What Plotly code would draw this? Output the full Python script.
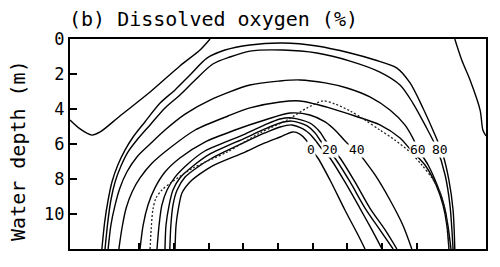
import plotly.graph_objects as go

# Contour paths: distance (arbitrary units, axis 0-12) vs water depth (m)
left_x = [0, 0.29, 0.63, 0.87, 1.44, 2.31, 3.17, 3.75, 4.04]
left_y = [4.63, 5.14, 5.49, 5.31, 4.40, 3.03, 1.54, 0.63, 0.0]

right_x = [11.10, 11.30, 11.54, 11.83, 11.91, 12.0]
right_y = [0, 1.2, 2.34, 4.06, 5.2, 5.54]

c1_x = [0.92, 1.00, 1.10, 1.21, 1.38, 1.59, 1.82, 2.16, 2.60, 3.03, 3.46, 3.95, 4.47, 5.19, 6.14, 7.12, 8.08, 8.80, 9.43, 9.81, 10.18, 10.53, 10.76, 10.93, 11.05, 11.10]
c1_y = [12.0, 10.46, 9.20, 8.17, 7.20, 6.34, 5.60, 4.74, 3.66, 2.91, 2.06, 1.09, 0.63, 0.34, 0.23, 0.40, 0.80, 1.20, 1.66, 2.51, 3.94, 5.49, 6.63, 8.06, 9.77, 12.0]

c2_x = [1.01, 1.09, 1.18, 1.30, 1.47, 1.67, 1.93, 2.31, 2.74, 3.17, 3.61, 4.12, 4.61, 5.19, 6.14, 7.12, 8.08, 8.94, 9.52, 9.89, 10.24, 10.59, 10.82, 10.96, 11.05]
c2_y = [12.0, 10.46, 9.20, 8.17, 7.26, 6.46, 5.77, 4.91, 3.94, 3.20, 2.34, 1.43, 1.03, 0.69, 0.63, 0.80, 1.26, 1.89, 2.63, 3.66, 4.91, 6.29, 7.77, 9.49, 12.0]

c3_x = [1.10, 1.18, 1.30, 1.44, 1.64, 1.93, 2.31, 2.74, 3.32, 4.04, 5.19, 6.06, 6.63, 7.36, 7.99, 8.65, 9.23, 9.66, 9.89, 10.04, 10.33, 10.59, 10.79, 10.90, 10.99]
c3_y = [12.0, 10.63, 9.49, 8.51, 7.60, 6.74, 6.0, 5.20, 4.29, 3.49, 2.63, 2.40, 2.34, 2.51, 2.80, 3.31, 4.06, 4.91, 5.66, 6.29, 7.20, 8.34, 9.49, 10.63, 12.0]

c4_x = [1.41, 1.50, 1.62, 1.79, 2.02, 2.37, 2.88, 3.61, 4.56, 5.19, 6.06, 6.63, 7.41, 8.22, 8.94, 9.52, 9.81, 10.24, 10.56, 10.76, 10.87, 10.93]
c4_y = [12.0, 10.80, 9.66, 8.74, 7.94, 7.09, 6.23, 5.20, 4.40, 3.94, 3.60, 3.54, 3.89, 4.40, 4.91, 5.66, 6.29, 7.20, 8.34, 9.49, 10.63, 12.0]

c40_x = [2.02, 2.11, 2.25, 2.45, 2.74, 3.17, 3.89, 4.76, 5.62, 6.35, 6.92, 7.36, 7.70, 7.99, 8.28, 8.42, 8.80, 9.23, 9.60, 9.86]
c40_y = [12.0, 10.63, 9.49, 8.51, 7.60, 6.80, 5.89, 5.20, 4.63, 4.23, 4.34, 4.74, 5.31, 5.94, 6.34, 6.74, 7.77, 9.20, 10.63, 12.0]

c30_x = [2.51, 2.57, 2.65, 2.80, 3.03, 3.40, 3.89, 5.05, 5.62, 6.06, 6.40, 6.92, 7.21, 7.36, 7.56, 7.79, 8.22, 8.65, 9.09, 9.43]
c30_y = [12.0, 10.63, 9.49, 8.63, 7.89, 7.14, 6.40, 5.43, 4.91, 4.57, 4.51, 4.80, 5.31, 5.77, 6.29, 6.80, 8.17, 9.66, 10.91, 12.0]

c20_x = [2.74, 2.77, 2.86, 2.97, 3.17, 3.55, 4.04, 5.05, 5.62, 6.06, 6.40, 6.84, 7.07, 7.21, 7.41, 7.64, 8.08, 8.51, 8.94, 9.32]
c20_y = [12.0, 10.63, 9.49, 8.63, 7.94, 7.26, 6.57, 5.66, 5.14, 4.80, 4.69, 4.97, 5.37, 5.77, 6.29, 6.80, 8.17, 9.66, 10.91, 12.0]

c10_x = [2.88, 2.91, 2.97, 3.09, 3.32, 3.69, 4.10, 5.05, 5.62, 6.06, 6.40, 6.72, 6.92, 7.07, 7.27, 7.50, 7.93, 8.36, 8.71, 9.00]
c10_y = [12.0, 10.63, 9.49, 8.63, 7.89, 7.31, 6.80, 5.89, 5.37, 5.03, 4.91, 5.14, 5.43, 5.77, 6.29, 6.80, 8.17, 9.66, 10.91, 12.0]

c0_x = [3.03, 3.06, 3.12, 3.23, 3.46, 3.75, 4.10, 5.05, 5.62, 6.06, 6.43, 6.63, 6.81, 6.95, 7.15, 7.50, 7.93, 8.31, 8.51]
c0_y = [12.0, 10.63, 9.77, 8.80, 8.17, 7.71, 7.26, 6.46, 5.94, 5.60, 5.31, 5.43, 5.77, 6.29, 6.80, 8.06, 9.77, 11.20, 12.0]

dot_x = [2.31, 2.34, 2.39, 2.48, 2.65, 2.94, 3.55, 4.53, 5.48, 6.26, 6.84, 7.30, 7.64, 8.08, 8.51, 8.94, 9.37, 9.81, 10.15, 10.44, 10.67, 10.82, 10.90, 10.93]
dot_y = [12.0, 10.91, 9.77, 9.09, 8.63, 8.17, 7.37, 6.46, 5.37, 4.63, 3.94, 3.54, 3.71, 4.11, 4.63, 5.20, 5.77, 6.46, 7.20, 7.94, 8.74, 9.77, 10.91, 12.0]

label_text = ["0", "20", "40", "60", "80"]
label_x = [6.95, 7.50, 8.28, 10.04, 10.67]
label_y = [6.29, 6.29, 6.29, 6.29, 6.29]

y_ticks = [0, 2, 4, 6, 8, 10]
x_ticks = [2, 3, 4, 5, 6, 7, 8, 9, 10]

solid = [(left_x, left_y), (right_x, right_y), (c1_x, c1_y), (c2_x, c2_y),
         (c3_x, c3_y), (c4_x, c4_y), (c40_x, c40_y), (c30_x, c30_y),
         (c20_x, c20_y), (c10_x, c10_y), (c0_x, c0_y)]

fig = go.Figure()
for xs, ys in solid:
    fig.add_trace(go.Scatter(x=xs, y=ys, mode="lines",
                             line=dict(color="black", width=1.4, shape="spline", smoothing=0.8),
                             showlegend=False, hoverinfo="skip"))
fig.add_trace(go.Scatter(x=dot_x, y=dot_y, mode="lines",
                         line=dict(color="#222222", width=1.3, dash="2px,2px", shape="spline", smoothing=0.8),
                         showlegend=False, hoverinfo="skip"))

for t, lx, ly in zip(label_text, label_x, label_y):
    fig.add_annotation(x=lx, y=ly, text=t, showarrow=False, xref="x", yref="y",
                       font=dict(family="DejaVu Sans Mono", size=13, color="black"),
                       bgcolor="white", borderpad=0)

mono = "DejaVu Sans Mono"
fig.add_annotation(x=-0.007, y=1.095, xref="paper", yref="paper", xanchor="left", yanchor="middle",
                   text="(b) Dissolved oxygen (%)", showarrow=False,
                   font=dict(family=mono, size=20, color="black"))
fig.add_annotation(x=-0.125, y=0.467, xref="paper", yref="paper", xanchor="center", yanchor="middle",
                   text="Water depth (m)", textangle=-90, showarrow=False,
                   font=dict(family=mono, size=20, color="black"))

fig.update_xaxes(range=[0, 12], showgrid=False, zeroline=False, showline=True, linecolor="black",
                 linewidth=2, mirror=True, ticks="inside", ticklen=6, tickwidth=2, tickcolor="black",
                 tickvals=x_ticks, showticklabels=False)
fig.update_yaxes(range=[12, 0], showgrid=False, zeroline=False, showline=True, linecolor="black",
                 linewidth=2, mirror=True, ticks="inside", ticklen=7, tickwidth=2, tickcolor="black",
                 tickvals=y_ticks, tickfont=dict(family=mono, size=17, color="black"))

fig.update_layout(width=500, height=267, margin=dict(l=70, r=14, t=39, b=18),
                  paper_bgcolor="white", plot_bgcolor="white")

fig.write_html("out.html")
